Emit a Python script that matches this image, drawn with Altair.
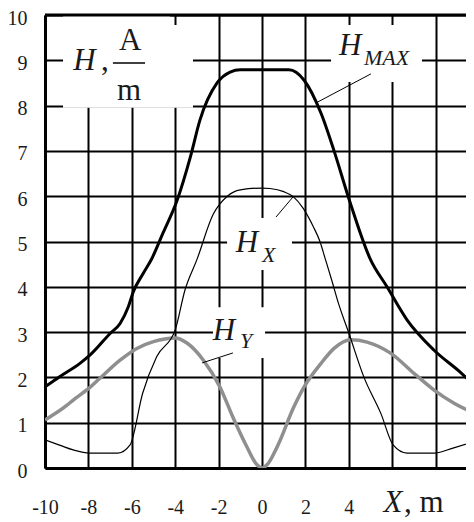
import altair as alt
import pandas as pd

# ---- data ----
hmax_x = [-10, -9.31, -8.39, -7.93, -7.0, -6.54, -6.16, -5.93, -5.47, -5.08, -4.56, -3.92, -3.3, -2.86, -2.07, -1.47, -1.0, 0, 1.0, 1.24, 1.94, 2.72, 3.32, 4.0, 5.0, 5.76, 6.68, 7.93, 9.17, 9.77]
hmax_y = [1.79, 2.02, 2.31, 2.49, 2.97, 3.19, 3.56, 3.89, 4.30, 4.62, 5.19, 5.9, 6.87, 7.68, 8.5, 8.74, 8.79, 8.79, 8.79, 8.79, 8.56, 7.83, 7.0, 5.95, 4.6, 4.0, 3.27, 2.6, 2.1, 1.83]

hx_x = [-10, -9.3, -8.7, -7.93, -6.64, -6.08, -5.5, -4.85, -4.0, -3.55, -3.0, -2.25, -1.6, -1.0, 0, 0.37, 1.0, 1.44, 1.9, 2.36, 2.67, 2.9, 3.21, 3.52, 4.0, 4.7, 5.48, 6.04, 6.68, 7.97, 8.8, 9.72]
hx_y = [0.62, 0.5, 0.4, 0.33, 0.33, 0.51, 1.65, 2.46, 3.05, 3.93, 4.6, 5.6, 6.0, 6.14, 6.18, 6.17, 6.1, 5.99, 5.73, 5.33, 5.0, 4.64, 4.15, 3.64, 2.98, 2.0, 1.2, 0.51, 0.33, 0.33, 0.44, 0.57]

hy_x = [-10, -9, -8.7, -7.93, -7.47, -6.54, -5.77, -5.0, -4.0, -3.46, -2.7, -1.94, -1.34, -0.7, -0.23, 0, 0.23, 0.7, 1.47, 1.94, 2.72, 3.32, 4.1, 4.84, 5.94, 7.0, 7.93, 8.85, 9.77]
hy_y = [1.06, 1.38, 1.5, 1.78, 1.98, 2.38, 2.64, 2.79, 2.87, 2.76, 2.38, 1.79, 1.12, 0.47, 0.07, 0.0, 0.07, 0.47, 1.35, 1.79, 2.31, 2.64, 2.83, 2.78, 2.53, 2.09, 1.72, 1.43, 1.21]

x_ticks = [-10, -8, -6, -4, -2, 0, 2, 4, 6, 8]
y_ticks = [0, 1, 2, 3, 4, 5, 6, 7, 8, 9, 10]
x_visible = [-10, 9.4]   # part of the x range that the reference shows

# white label backgrounds (data units)
box_x = [-9.17, -4.24, 3.18, -1.61, -2.26]
box_x2 = [-4.24, -3.18, 7.37, 1.38, 0.14]
box_y = [7.95, 7.95, 8.52, 4.37, 2.43]
box_y2 = [9.98, 9.78, 9.78, 5.52, 3.55]

# leader lines, fraction bar and top border (data units)
lead_x = [5.02, 0.645, -1.34, -6.87, -10]
lead_x2 = [2.49, 1.44, -2.76, -5.39, 9.4]
lead_y = [8.7, 5.54, 2.54, 8.94, 10]
lead_y2 = [8.06, 5.99, 2.32, 8.94, 10]
lead_w = [1, 1, 1, 1.5, 3]

big_it_text = ["H", "H", "H", "H", "X"]
big_it_x = [-8.18, 4.06, -0.69, -1.75, 6.04]
big_it_y = [8.79, 9.12, 4.77, 2.83, -0.97]

sub_text = ["MAX", "X", "Y"]
sub_x = [4.70, 0.0, -1.01]
sub_y = [8.90, 4.55, 2.65]

unit_text = ["A", "m"]
unit_x = [-6.08, -6.13]
unit_y = [9.23, 8.12]

comma_text = [",", ", m"]
comma_x = [-7.42, 6.54]
comma_y = [8.79, -0.97]

# ---- tables ----
curves = pd.concat([
    pd.DataFrame({"x": hmax_x, "y": hmax_y, "s": "HMAX"}),
    pd.DataFrame({"x": hx_x, "y": hx_y, "s": "HX"}),
    pd.DataFrame({"x": hy_x, "y": hy_y, "s": "HY"}),
])
boxes = pd.DataFrame({"x": box_x, "x2": box_x2, "y": box_y, "y2": box_y2})
leads = pd.DataFrame({"x": lead_x, "x2": lead_x2, "y": lead_y, "y2": lead_y2, "w": lead_w})
big_it = pd.DataFrame({"x": big_it_x, "y": big_it_y, "t": big_it_text})
subs = pd.DataFrame({"x": sub_x, "y": sub_y, "t": sub_text})
units = pd.DataFrame({"x": unit_x, "y": unit_y, "t": unit_text})
commas = pd.DataFrame({"x": comma_x, "y": comma_y, "t": comma_text})

FONT = "Liberation Serif"
TXT = "#1a1a1a"

xscale = alt.Scale(domain=x_visible, nice=False, zero=False)
yscale = alt.Scale(domain=[0, 10], nice=False, zero=False)

x_axis = alt.Axis(values=x_ticks, title=None, grid=True, gridColor="black", gridWidth=2, gridOpacity=1,
                  domain=True, domainColor="black", domainWidth=3, ticks=False, tickSize=0,
                  labelExpr="datum.value <= 4 ? toString(datum.value) : ''",
                  labelFont=FONT, labelFontSize=20, labelColor=TXT, labelPadding=45,
                  labelBaseline="alphabetic", labelFlush=False, labelOverlap=False)
y_axis = alt.Axis(values=y_ticks, title=None, grid=True, gridColor="black", gridWidth=2, gridOpacity=1,
                  domain=True, domainColor="black", domainWidth=3, ticks=False, tickSize=0,
                  labelFont=FONT, labelFontSize=20, labelColor=TXT, labelPadding=18,
                  labelOffset=3, labelFlush=False, labelOverlap=False)

X = alt.X("x:Q", scale=xscale, axis=x_axis)
Y = alt.Y("y:Q", scale=yscale, axis=y_axis)

rects = alt.Chart(boxes).mark_rect(color="white").encode(x=X, x2="x2:Q", y=Y, y2="y2:Q")

rules = alt.Chart(leads).mark_rule(color="black").encode(
    x=X, x2="x2:Q", y=Y, y2="y2:Q", strokeWidth=alt.StrokeWidth("w:Q", scale=None))

line_hmax = alt.Chart(curves).transform_filter("datum.s == 'HMAX'").mark_line(
    color="black", strokeWidth=3, interpolate="monotone", clip=True).encode(x=X, y=Y, order="x:Q")
line_hx = alt.Chart(curves).transform_filter("datum.s == 'HX'").mark_line(
    color="black", strokeWidth=1.2, interpolate="monotone", clip=True).encode(x=X, y=Y, order="x:Q")
line_hy = alt.Chart(curves).transform_filter("datum.s == 'HY'").mark_line(
    color="#8f8f8f", strokeWidth=3.5, interpolate="monotone", clip=True).encode(x=X, y=Y, order="x:Q")

t_big = alt.Chart(big_it).mark_text(font=FONT, fontSize=31, fontStyle="italic", color=TXT,
                                   align="center", baseline="alphabetic").encode(x=X, y=Y, text="t:N")
t_sub = alt.Chart(subs).mark_text(font=FONT, fontSize=22, fontStyle="italic", color=TXT,
                                 align="left", baseline="alphabetic").encode(x=X, y=Y, text="t:N")
t_unit = alt.Chart(units).mark_text(font=FONT, fontSize=31, color=TXT,
                                   align="center", baseline="alphabetic").encode(x=X, y=Y, text="t:N")
t_comma = alt.Chart(commas).mark_text(font=FONT, fontSize=31, color=TXT,
                                     align="left", baseline="alphabetic").encode(x=X, y=Y, text="t:N")

chart = alt.layer(rects, line_hy, line_hx, line_hmax, rules, t_big, t_sub, t_unit, t_comma).properties(
    width=421, height=453,
    autosize=alt.AutoSizeParams(type="none"),
    padding={"left": 37, "top": 7, "right": 0, "bottom": 50},
    background="white",
).configure_view(stroke=None)

chart.save("out.html", embed_options={"renderer": "svg", "actions": False})
